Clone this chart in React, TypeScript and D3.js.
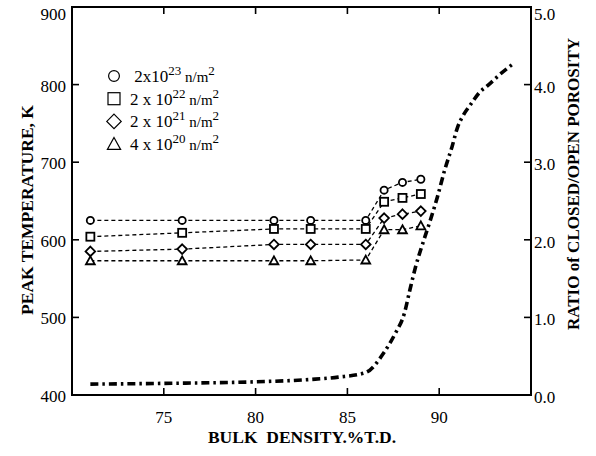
import React from 'react';
import * as d3 from 'd3';

// peak temperature data (left axis)
const density = [71, 76, 81, 83, 86, 87, 88, 89];
const temp2e23 = [625, 625, 625, 625, 625, 664, 674, 678];
const temp2e22 = [604, 609, 614, 614, 614, 649, 654, 659];
const temp2e21 = [585, 588, 594, 594, 594, 628, 633, 637];
const temp4e20 = [573, 573, 573, 573, 574, 613, 613, 618];

// closed/open porosity ratio (right axis)
const ratioDensity = [71, 75, 80, 83, 84.5, 86, 87, 87.6, 88.1, 88.4, 88.7, 89.1, 89.5, 89.9, 90.3, 90.7, 91.0, 91.3, 91.7, 92.2, 92.7, 93.3, 94.1];
const ratioValues = [0.14, 0.15, 0.17, 0.2, 0.23, 0.29, 0.55, 0.79, 1.05, 1.35, 1.64, 1.95, 2.24, 2.55, 2.9, 3.2, 3.45, 3.6, 3.74, 3.9, 4.0, 4.13, 4.28];

const xTicks = [75, 80, 85, 90];
const tempTicks = [400, 500, 600, 700, 800, 900];
const ratioTicks = [0, 1, 2, 3, 4, 5];

const legendItems = [
  { shape: 'circle', pre: ' 2x10', exp: '23' },
  { shape: 'square', pre: '2 x 10', exp: '22' },
  { shape: 'diamond', pre: '2 x 10', exp: '21' },
  { shape: 'triangle', pre: '4 x 10', exp: '20' },
];
const series = [temp2e23, temp2e22, temp2e21, temp4e20];

const W = 596, H = 456;
const L = 72, R = 531, T = 7, B = 395;
const FF = 'Times New Roman';

function marker(shape: string, cx: number, cy: number, s: number) {
  if (shape === 'circle') return <circle cx={cx} cy={cy} r={s * 0.45} />;
  if (shape === 'square') return <rect x={cx - s / 2} y={cy - s / 2} width={s} height={s} />;
  if (shape === 'diamond') {
    const h = s * 0.6;
    return <path d={`M${cx},${cy - h}L${cx + h},${cy}L${cx},${cy + h}L${cx - h},${cy}Z`} />;
  }
  const h = s * 0.55;
  return <path d={`M${cx},${cy - h}L${cx + h},${cy + h * 0.8}L${cx - h},${cy + h * 0.8}Z`} />;
}

export default function App() {
  const x = d3.scaleLinear().domain([70, 95]).range([L, R]);
  const yT = d3.scaleLinear().domain([400, 900]).range([B, T]);
  const yR = d3.scaleLinear().domain([0, 5]).range([B, T]);

  const tempLine = d3.line<number>().x((d, i) => x(density[i])).y(d => yT(d));
  const ratioLine = d3.line<number>()
    .x((d, i) => x(ratioDensity[i]))
    .y(d => yR(d))
    .curve(d3.curveMonotoneX);

  const tl = 7;

  return (
    <div style={{ position: 'absolute', left: 0, top: 0 }}>
      <svg width={W} height={H} style={{ display: 'block', background: '#fff' }}>
        {/* frame */}
        <rect x={L} y={T} width={R - L} height={B - T} fill="none" stroke="#000" strokeWidth={2} />
        {/* x ticks top & bottom */}
        {xTicks.map(t => (
          <g key={'x' + t}>
            <line x1={x(t)} x2={x(t)} y1={B} y2={B - tl} stroke="#000" strokeWidth={1.6} />
            <line x1={x(t)} x2={x(t)} y1={T} y2={T + tl} stroke="#000" strokeWidth={1.6} />
            <text fontFamily={FF} x={x(t)} y={B + 28} fontSize={17} textAnchor="middle">{t}</text>
          </g>
        ))}
        {/* left ticks */}
        {tempTicks.map(t => (
          <g key={'l' + t}>
            {t > 400 && t < 900 && <line x1={L} x2={L + tl} y1={yT(t)} y2={yT(t)} stroke="#000" strokeWidth={1.6} />}
            <text fontFamily={FF} x={L - 6} y={Math.max(yT(t) + 7, 20)} fontSize={17} textAnchor="end">{t}</text>
          </g>
        ))}
        {/* right ticks */}
        {ratioTicks.map(t => (
          <g key={'r' + t}>
            {t > 0 && t < 5 && <line x1={R} x2={R - tl} y1={yR(t)} y2={yR(t)} stroke="#000" strokeWidth={1.6} />}
            <text fontFamily={FF} x={R + 3} y={Math.max(yR(t) + 8, 20)} fontSize={17} textAnchor="start">{d3.format('.1f')(t)}</text>
          </g>
        ))}

        {/* temperature series */}
        {series.map((s, k) => (
          <g key={'s' + k}>
            <path d={tempLine(s) || ''} fill="none" stroke="#000" strokeWidth={1.3} strokeDasharray="4 3" />
            <g fill="#fff" stroke="#000" strokeWidth={1.8}>
              {s.map((v, i) => <g key={i}>{marker(legendItems[k].shape, x(density[i]), yT(v), 8)}</g>)}
            </g>
          </g>
        ))}

        {/* ratio curve */}
        <path d={ratioLine(ratioValues) || ''} fill="none" stroke="#000" strokeWidth={3.6}
          strokeDasharray="8 4 2.5 4" />

        {/* legend */}
        {legendItems.map((it, k) => {
          const cy = 76 + k * 22.7;
          return (
            <g key={'lg' + k}>
              <g fill="#fff" stroke="#000" strokeWidth={1.2}>{marker(it.shape, 114, cy, 12)}</g>
              <text fontFamily={FF} x={130} y={cy + 6} fontSize={17} style={{ whiteSpace: 'pre' }}>
                {it.pre}
                <tspan dy={-7} fontSize={13}>{it.exp}</tspan>
                <tspan dy={7} fontSize={15}>{' n/m'}</tspan>
                <tspan dy={-7} fontSize={13}>2</tspan>
              </text>
            </g>
          );
        })}

        {/* axis titles */}
        <text fontFamily={FF} x={302} y={443} fontSize={17.5} fontWeight="bold" textAnchor="middle" style={{ whiteSpace: 'pre' }}>
          BULK  DENSITY.%T.D.
        </text>
        <text fontFamily={FF} transform="translate(27,210) rotate(-90)" fontSize={17.5} fontWeight="bold" textAnchor="middle" dy={6}>
          PEAK TEMPERATURE, K
        </text>
        <text fontFamily={FF} transform="translate(573,184) rotate(-90)" fontSize={17} fontWeight="bold" textAnchor="middle" dy={6}>
          RATIO of CLOSED/OPEN POROSITY
        </text>
      </svg>
    </div>
  );
}
